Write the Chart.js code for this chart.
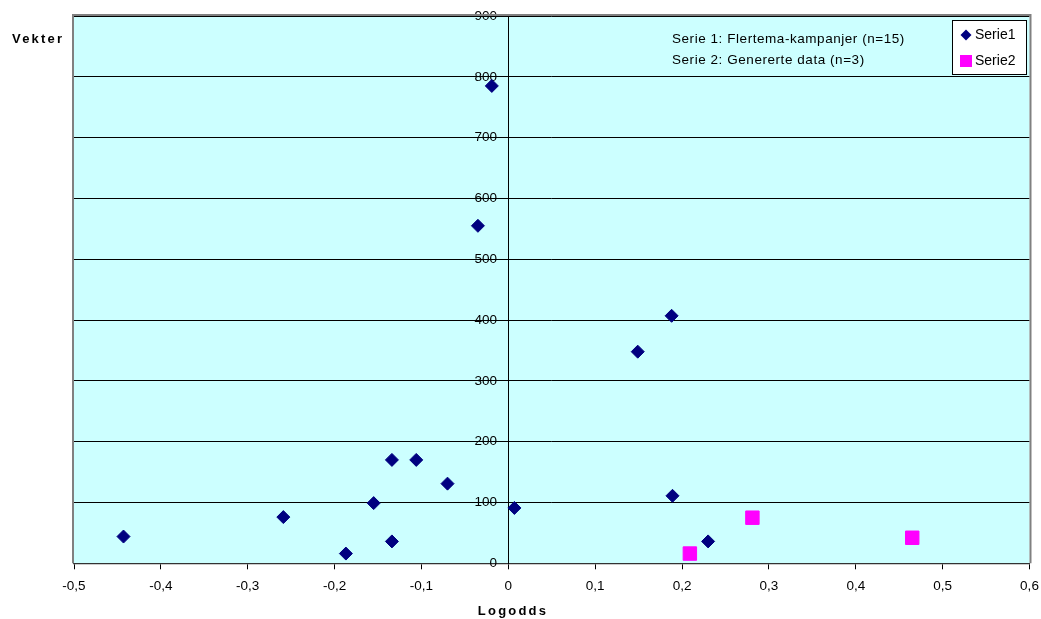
<!DOCTYPE html>
<html>
<head>
<meta charset="utf-8">
<script src="https://cdn.jsdelivr.net/npm/chart.js@4.4.1/dist/chart.umd.min.js"></script>
<style>
  body { margin: 0; background: #ffffff; }
  #chartBox { position: relative; width: 1041px; height: 619px; }
</style>
</head>
<body>
<div id="chartBox">
  <canvas id="chartCanvas" width="1041" height="619"></canvas>
</div>
<script>
// data
const serie1Logodds = [-0.443, -0.259, -0.187, -0.155, -0.134, -0.134, -0.106, -0.070, -0.035, -0.019, 0.007, 0.149, 0.188, 0.189, 0.230];
const serie1Vekter = [44, 76, 16, 99, 170, 36, 170, 131, 555, 785, 91, 348, 407, 111, 36];
const serie2Logodds = [0.209, 0.281, 0.465];
const serie2Vekter = [16, 75, 42];

const seriesNames = ['Serie1', 'Serie2'];
const noteLines = ['Serie 1: Flertema-kampanjer (n=15)', 'Serie 2: Genererte data (n=3)'];
const xTitle = 'Logodds';
const yTitle = 'Vekter';

const xMin = -0.5, xMax = 0.6, xStep = 0.1;
const yMin = 0, yMax = 900, yStep = 100;

const navy = '#000080';
const pink = '#ff00ff';

const toPoints = (xs, ys) => xs.map((x, i) => ({ x: x, y: ys[i] }));

// plot background, grey frame, titles, note text and the boxed legend
const decorPlugin = {
  id: 'decor',
  beforeDraw(chart) {
    const { ctx, chartArea: a } = chart;
    ctx.save();
    ctx.fillStyle = '#ccffff';
    ctx.fillRect(a.left, a.top, a.right - a.left, a.bottom - a.top);
    ctx.restore();
  },
  afterDraw(chart) {
    const { ctx, chartArea: a } = chart;
    ctx.save();
    // frame (top, left, right in grey)
    ctx.strokeStyle = '#808080';
    ctx.lineWidth = 2;
    ctx.beginPath();
    ctx.moveTo(a.left - 1, a.bottom);
    ctx.lineTo(a.left - 1, a.top - 1);
    ctx.lineTo(a.right + 1, a.top - 1);
    ctx.lineTo(a.right + 1, a.bottom);
    ctx.stroke();

    // axis titles
    ctx.fillStyle = '#000000';
    ctx.font = 'bold 13px "Liberation Sans", Arial, sans-serif';
    ctx.letterSpacing = '2.2px';
    ctx.textBaseline = 'middle';
    ctx.textAlign = 'left';
    ctx.fillText(yTitle, 12, 39);
    ctx.textAlign = 'center';
    ctx.fillText(xTitle, 513, 611);

    // note text
    ctx.font = '13.5px "Liberation Sans", Arial, sans-serif';
    ctx.letterSpacing = '0.55px';
    ctx.textAlign = 'left';
    ctx.fillText(noteLines[0], 672, 39);
    ctx.fillText(noteLines[1], 672, 60);
    ctx.letterSpacing = '0px';

    // legend box
    const lx = 952.5, ly = 20.5, lw = 74, lh = 54;
    ctx.fillStyle = '#ffffff';
    ctx.fillRect(lx, ly, lw, lh);
    ctx.strokeStyle = '#000000';
    ctx.lineWidth = 1;
    ctx.strokeRect(lx, ly, lw, lh);

    ctx.fillStyle = navy;
    ctx.beginPath();
    ctx.moveTo(966, 29.5);
    ctx.lineTo(971.5, 35);
    ctx.lineTo(966, 40.5);
    ctx.lineTo(960.5, 35);
    ctx.closePath();
    ctx.fill();
    ctx.fillStyle = pink;
    ctx.fillRect(960, 55, 12, 12);

    ctx.fillStyle = '#000000';
    ctx.font = '14px "Liberation Sans", Arial, sans-serif';
    ctx.fillText(seriesNames[0], 975, 35);
    ctx.fillText(seriesNames[1], 975, 61);
    ctx.restore();
  }
};

const ctx = document.getElementById('chartCanvas').getContext('2d');
new Chart(ctx, {
  type: 'scatter',
  data: {
    datasets: [
      {
        label: seriesNames[0],
        data: toPoints(serie1Logodds, serie1Vekter),
        pointStyle: 'rectRot',
        pointRadius: 6.5,
        backgroundColor: navy,
        borderColor: navy,
        borderWidth: 1,
      },
      {
        label: seriesNames[1],
        data: toPoints(serie2Logodds, serie2Vekter),
        pointStyle: 'rect',
        pointRadius: 9.5,
        backgroundColor: pink,
        borderColor: pink,
        borderWidth: 1,
      },
    ],
  },
  options: {
    responsive: false,
    animation: false,
    layout: { padding: { left: 74, top: 16, right: 11.5, bottom: 55.7 } },
    plugins: {
      legend: { display: false },
      tooltip: { enabled: false },
    },
    scales: {
      x: {
        type: 'linear',
        position: { y: 0 },
        min: xMin,
        max: xMax,
        // don't let the end labels push the plot area in
        afterFit: (axis) => { axis.paddingLeft = 0; axis.paddingRight = 0; },
        ticks: {
          stepSize: xStep,
          padding: 10,
          color: '#000000',
          font: { family: '"Liberation Sans", Arial, sans-serif', size: 13.5 },
          callback: (v) => (Math.abs(v) < 1e-9 ? '0' : v.toFixed(1).replace('.', ',')),
        },
        grid: {
          drawOnChartArea: false,
          tickLength: 5,
          color: '#000000',
        },
        border: { color: '#333333', width: 1.3 },
      },
      y: {
        type: 'linear',
        position: { x: 0 },
        min: yMin,
        max: yMax,
        afterFit: (axis) => { axis.paddingTop = 0; axis.paddingBottom = 0; },
        ticks: {
          stepSize: yStep,
          color: '#000000',
          font: { family: '"Liberation Sans", Arial, sans-serif', size: 13.5 },
          // labels sit right on the crossing axis, trailing spaces move them off it
          callback: (v) => v + '   ',
        },
        grid: {
          tickLength: 6,
          color: '#000000',
        },
        border: { color: '#000000', width: 1 },
      },
    },
  },
  plugins: [decorPlugin],
});
</script>
</body>
</html>
